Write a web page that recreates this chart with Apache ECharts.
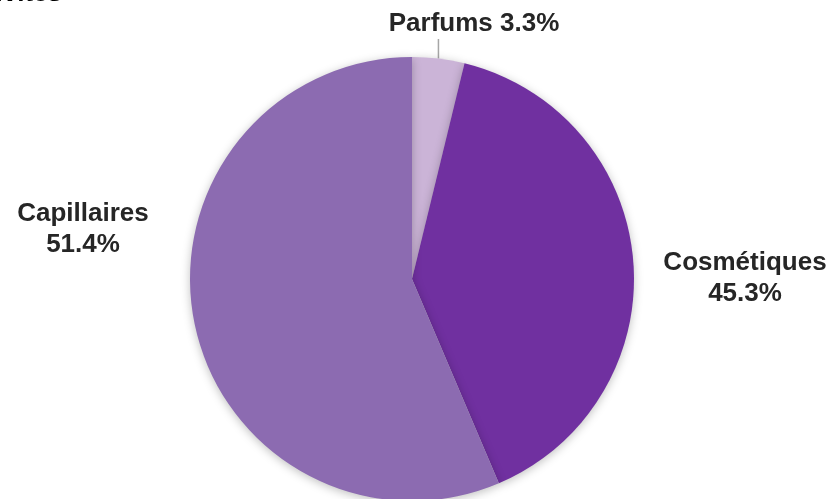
<!DOCTYPE html>
<html>
<head>
<meta charset="utf-8">
<script src="https://cdn.jsdelivr.net/npm/echarts@6/dist/echarts.min.js"></script>
<style>html,body{margin:0;padding:0;background:#fff}#c{width:832px;height:499px}</style>
</head>
<body>
<div id="c"></div>
<script>
var categories = ['Parfums', 'Cosmétiques', 'Capillaires'];
var sliceValues = [3.8, 39.8, 56.4];
var labelPercents = ['3.3%', '45.3%', '51.4%'];
var colors = ['#CBB4D7', '#7030A0', '#8C6BB1'];
var titleText = 'Activités';

var labelPos = [
  {x: 474, y: 24, sep: ' '},
  {x: 745, y: 278, sep: '\n'},
  {x: 83, y: 229, sep: '\n'}
];

var chart = echarts.init(document.getElementById('c'));
chart.setOption({
  animation: false,
  graphic: [{
    type: 'text', z: 100,
    style: {text: titleText, x: 62, y: 7, textAlign: 'right', textVerticalAlign: 'bottom',
      font: 'bold 26px "Liberation Sans", Arial', fill: '#000'}
  }],
  series: [{
    type: 'pie',
    center: [412, 279],
    radius: 222,
    startAngle: 90,
    clockwise: true,
    data: categories.map(function (c, i) {
      return {
        name: c, value: sliceValues[i],
        itemStyle: {color: colors[i]},
        labelLine: {show: i === 0}
      };
    }),
    itemStyle: {shadowBlur: 10, shadowColor: 'rgba(0,0,0,0.25)', shadowOffsetX: 0, shadowOffsetY: 2},
    label: {
      show: true,
      position: 'outside',
      formatter: function (p) { return p.name + labelPos[p.dataIndex].sep + labelPercents[p.dataIndex]; },
      fontFamily: '"Liberation Sans", Arial',
      fontWeight: 'bold',
      fontSize: 26,
      lineHeight: 31,
      color: '#262626',
      align: 'center'
    },
    labelLine: {show: true, length: 8, length2: 0, lineStyle: {color: '#A6A6A6', width: 1.5}},
    labelLayout: function (params) {
      var p = labelPos[params.dataIndex];
      var res = {x: p.x, y: p.y, align: 'center', verticalAlign: 'middle'};
      if (params.dataIndex === 0 && params.labelLinePoints) {
        var s = params.labelLinePoints[0];
        res.labelLinePoints = [[s[0], s[1]], [s[0], p.y + 15]];
      }
      return res;
    },
    emphasis: {disabled: true}
  }]
});
</script>
</body>
</html>
